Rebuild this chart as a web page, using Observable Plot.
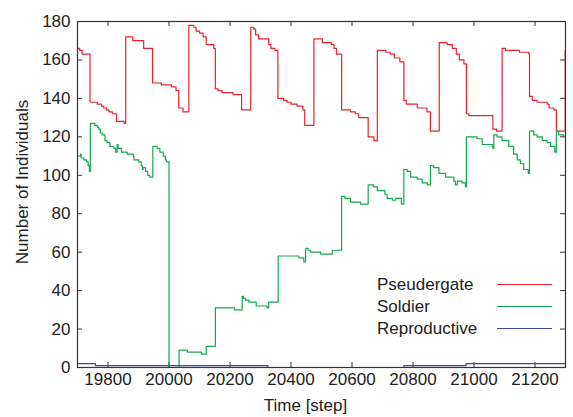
<!DOCTYPE html>
<html><head><meta charset="utf-8">
<script src="https://cdn.jsdelivr.net/npm/d3@7"></script>
<script src="https://cdn.jsdelivr.net/npm/@observablehq/plot@0.6"></script>
<style>
body{margin:0;background:#fff;}
#wrap{position:relative;width:573px;height:417px;font-family:"Liberation Sans",Arial,sans-serif;}
.legend{position:absolute;left:377px;top:273px;font-size:17px;color:#222;}
.row{display:flex;align-items:center;height:22.2px;}
.row span{width:120px;line-height:1;}
.row i{display:block;width:55px;height:0;border-top:1.2px solid;}
</style></head><body><div id="wrap"></div>
<script>
const xTicks = [19800, 20000, 20200, 20400, 20600, 20800, 21000, 21200];
const yTicks = [0, 20, 40, 60, 80, 100, 120, 140, 160, 180];
const seriesNames = ["Pseudergate", "Soldier", "Reproductive"];
const seriesColors = ["#e8232b", "#14a850", "#3d45a0"];

const pseudTime = [19700,19707,19715,19741,19765,19779,19786,19795,19803,19814,19828,19853,19858,19881,19917,19946,19975,20008,20023,20032,20046,20065,20081,20089,20100,20112,20122,20147,20152,20161,20174,20210,20238,20268,20278,20284,20294,20327,20334,20347,20357,20376,20387,20400,20420,20439,20445,20475,20503,20533,20541,20549,20566,20595,20611,20622,20653,20672,20683,20711,20725,20739,20757,20770,20778,20814,20846,20857,20886,20912,20929,20942,20952,20967,20975,20983,21062,21074,21092,21103,21149,21180,21182,21191,21207,21240,21246,21262,21270,21299];
const pseudCount = [166,165,163,138,137,136,135,134,133,132,128,127,172,170,166,148,147,146,144,135,133,178,177,175,174,172,168,166,145,144,143,142,134,177,176,173,171,168,166,165,140,139,138,137,136,134,126,171,169,168,166,163,134,133,132,130,120,118,165,164,163,161,159,139,137,135,133,123,169,168,166,163,160,158,132,131,124,123,166,165,164,163,141,139,138,137,135,134,123,165];

const soldTime = [19700,19710,19712,19721,19730,19735,19739,19742,19757,19765,19770,19775,19781,19790,19797,19806,19819,19825,19830,19833,19844,19863,19883,19885,19901,19909,19913,19915,19923,19930,19937,19947,19961,19970,19981,19988,19992,20000,20033,20060,20106,20122,20152,20215,20240,20244,20251,20262,20286,20322,20327,20358,20426,20442,20448,20456,20464,20497,20535,20566,20577,20595,20628,20653,20671,20683,20708,20715,20732,20743,20762,20770,20781,20792,20814,20830,20847,20857,20868,20885,20907,20934,20939,20945,20961,20972,20975,21010,21027,21060,21062,21065,21076,21092,21114,21130,21142,21152,21163,21178,21182,21196,21207,21224,21240,21251,21265,21270,21278,21294];
const soldCount = [110,111,109,108,107,105,102,127,126,125,124,122,121,118,117,115,114,112,116,114,112,111,110,108,107,105,103,104,102,100,99,115,114,112,110,108,107,0,9,8,7,11,31,30,37,36,35,34,32,31,34,58,57,55,62,61,60,59,61,89,88,86,85,95,94,92,90,88,87,88,85,103,102,99,98,96,95,105,104,101,99,97,95,97,96,94,120,119,116,115,114,121,120,118,115,111,108,106,103,101,123,121,120,118,117,115,112,123,121,120];

const reproTime = [19700, 19759, 20324, 20770, 20974, 21300];
const reproCount = [2, 1, 0, 1, 2, 2];

const seriesData = [[pseudTime, pseudCount], [soldTime, soldCount], [reproTime, reproCount]];
const rows = seriesData.flatMap(([t, v], k) => t.map((tt, i) => ({series: seriesNames[k], t: tt, v: v[i]})));

const W = 573, H = 417, ML = 77, MR = 8, MT = 21, MB = 50, TICK = 5;
const FW = W - ML - MR, FH = H - MT - MB;

const plot = Plot.plot({
  width: W, height: H,
  marginLeft: ML, marginRight: MR, marginTop: MT, marginBottom: MB,
  style: {fontFamily: "Liberation Sans, Arial, sans-serif", fontSize: "17px", color: "#222", background: "#fff"},
  x: {domain: [19700, 21300]},
  y: {domain: [0, 180]},
  marks: [
    Plot.axisX(xTicks, {anchor: "bottom", tickSize: 0, tickPadding: 5, label: null, tickFormat: d3.format("d")}),
    Plot.axisY(yTicks, {anchor: "left", tickSize: 0, tickPadding: 7, label: null, tickFormat: d3.format("d")}),
    Plot.ruleX(xTicks, {x: d => d, insetTop: FH - TICK, stroke: "#333"}),
    Plot.ruleX(xTicks, {x: d => d, insetBottom: FH - TICK, stroke: "#333"}),
    Plot.ruleY(yTicks, {y: d => d, insetRight: FW - TICK, stroke: "#333"}),
    Plot.ruleY(yTicks, {y: d => d, insetLeft: FW - TICK, stroke: "#333"}),
    ...seriesNames.map((name, k) => Plot.line(rows.filter(d => d.series === name), {
      x: "t", y: "v", curve: "step-after", stroke: seriesColors[k], strokeWidth: 1.2
    })),
    Plot.frame({stroke: "#333", strokeWidth: 1.2}),
    Plot.text(["Time [step]"], {frameAnchor: "bottom", dy: 38, dx: -16, fontSize: 17, fill: "#222", textAnchor: "middle", lineAnchor: "middle"}),
    Plot.text(["Number of Individuals"], {frameAnchor: "left", dx: -55, dy: -12.5, rotate: -90, fontSize: 17, fill: "#222", textAnchor: "middle", lineAnchor: "middle"})
  ]
});
const wrap = document.getElementById("wrap");
wrap.appendChild(plot);
const leg = document.createElement("div");
leg.className = "legend";
seriesNames.forEach((n, k) => {
  const r = document.createElement("div"); r.className = "row";
  const s = document.createElement("span"); s.textContent = n;
  const i = document.createElement("i"); i.style.borderTopColor = seriesColors[k];
  r.appendChild(s); r.appendChild(i); leg.appendChild(r);
});
wrap.appendChild(leg);
</script></body></html>
